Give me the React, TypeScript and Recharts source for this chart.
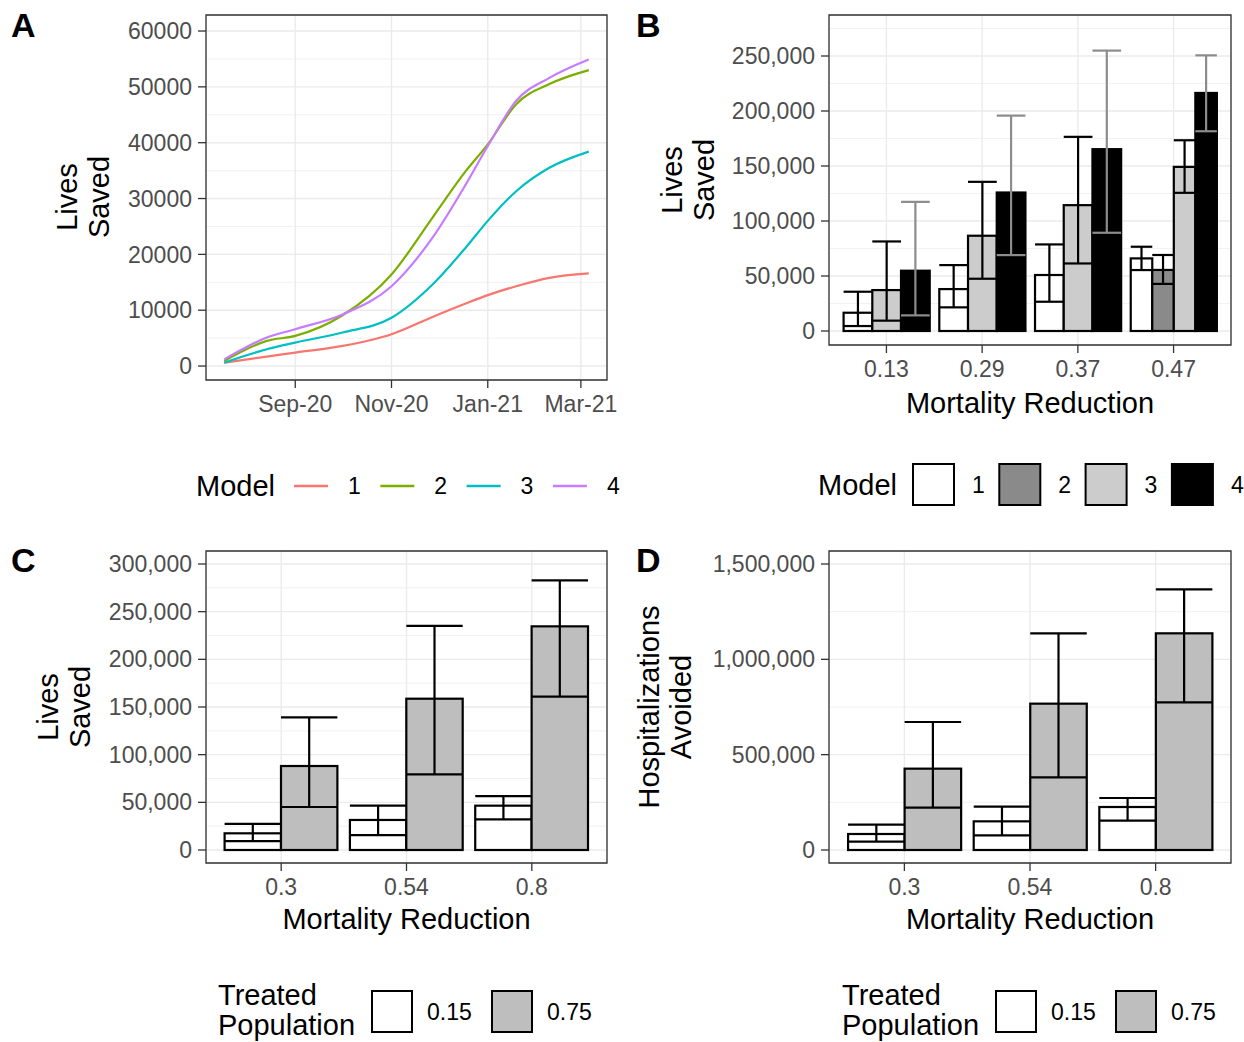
import React from 'react';
import {
  LineChart,
  Line,
  BarChart,
  Bar,
  XAxis,
  YAxis,
  CartesianGrid,
  ReferenceLine,
  ReferenceArea,
} from 'recharts';

const FONT = '"Liberation Sans", Arial, Helvetica, sans-serif';
const TICK_GREY = '#4D4D4D';
const GRID = '#EBEBEB';
const BORDER = '#333333';
const DODGE = 0.9;
const CHART_W = 620;
const MARGIN_R = 13;

// ---- panel A: cumulative lives saved by model
const lineDates = [
  '2020-07-18', '2020-08-14', '2020-09-01', '2020-10-01', '2020-11-01', '2020-11-27',
  '2020-12-18', '2021-01-01', '2021-01-19', '2021-02-09', '2021-03-06',
];
const livesModel1 = [600, 1700, 2400, 3600, 5700, 8800, 11200, 12700, 14300, 15800, 16600];
const livesModel2 = [900, 4500, 5400, 9100, 16400, 26600, 34900, 39700, 46900, 50500, 53000];
const livesModel3 = [600, 3000, 4200, 6000, 8650, 14600, 21200, 26000, 31300, 35500, 38400];
const livesModel4 = [1200, 5100, 6600, 9250, 14300, 23000, 32500, 39400, 47500, 51600, 54900];
const modelNames = ['1', '2', '3', '4'];
const modelColors = ['#F8766D', '#7CAE00', '#00BFC4', '#C77CFF'];
const dateTicks = ['2020-09-01', '2020-11-01', '2021-01-01', '2021-03-01'];
const dateTickLabels = ['Sep-20', 'Nov-20', 'Jan-21', 'Mar-21'];
const livesTicksA = [0, 10000, 20000, 30000, 40000, 50000, 60000];
const livesMinorA = [5000, 15000, 25000, 35000, 45000, 55000];

// ---- panel B: lives saved by mortality reduction and model
const mortalityB = ['0.13', '0.29', '0.37', '0.47'];
const bMean1 = [16600, 38100, 50900, 66000];
const bLow1 = [4500, 21500, 26600, 55400];
const bHigh1 = [35700, 59900, 78700, 76600];
const bMean2 = [null, null, null, 55500];
const bLow2 = [null, null, null, 42800];
const bHigh2 = [null, null, null, 69100];
const bMean3 = [37200, 86600, 114400, 149200];
const bLow3 = [9400, 47500, 61400, 125600];
const bHigh3 = [81400, 135600, 176500, 173400];
const bMean4 = [54800, 125900, 165300, 216400];
const bLow4 = [14200, 69000, 89300, 181600];
const bHigh4 = [117400, 195800, 254900, 250600];
const livesTicksB = [0, 50000, 100000, 150000, 200000, 250000];
const livesMinorB = [25000, 75000, 125000, 175000, 225000, 275000];
const modelFills = ['#FFFFFF', '#8A8A8A', '#CCCCCC', '#000000'];
const modelErrColors = ['#000000', '#000000', '#000000', '#8C8C8C'];

// ---- panels C and D: by mortality reduction and treated population
const mortalityCD = ['0.3', '0.54', '0.8'];
const treatedPop = ['0.15', '0.75'];
const cMean15 = [17500, 31500, 46500];
const cLow15 = [9400, 15700, 32200];
const cHigh15 = [27300, 46500, 56600];
const cMean75 = [88100, 158700, 234600];
const cLow75 = [45100, 79400, 160800];
const cHigh75 = [139200, 235000, 282900];
const dMean15 = [83900, 150300, 225500];
const dLow15 = [43700, 76900, 153800];
const dHigh15 = [132900, 227300, 272700];
const dMean75 = [426600, 767500, 1136400];
const dLow75 = [222000, 381100, 774500];
const dHigh75 = [671300, 1136400, 1367100];
const livesTicksC = [0, 50000, 100000, 150000, 200000, 250000, 300000];
const livesMinorC = [25000, 75000, 125000, 175000, 225000, 275000];
const hospTicksD = [0, 500000, 1000000, 1500000];
const hospMinorD = [250000, 750000, 1250000];
const treatedFills = ['#FFFFFF', '#BEBEBE'];
const treatedErrColors = ['#000000', '#000000'];

const toTime = (s: string) => Date.parse(s + 'T00:00:00Z');
const fmtComma = (v: number) => v.toLocaleString('en-US');

type BarRow = { x: number; w: number; mean: number; lo: number; hi: number; series: number };

// dodge like ggplot: bars present in a group share the dodge width
function buildRows(means: (number | null)[][], lows: (number | null)[][], highs: (number | null)[][], nGroups: number): BarRow[] {
  const rows: BarRow[] = [];
  for (let g = 0; g < nGroups; g++) {
    const present = means.map((m, s) => s).filter((s) => means[s][g] != null);
    const w = DODGE / present.length;
    present.forEach((s, k) => {
      rows.push({
        x: g + 1 - DODGE / 2 + w * (k + 0.5),
        w,
        mean: means[s][g] as number,
        lo: lows[s][g] as number,
        hi: highs[s][g] as number,
        series: s,
      });
    });
  }
  return rows;
}

const rowsB = buildRows(
  [bMean1, bMean2, bMean3, bMean4],
  [bLow1, bLow2, bLow3, bLow4],
  [bHigh1, bHigh2, bHigh3, bHigh4],
  mortalityB.length
);
const rowsC = buildRows([cMean15, cMean75], [cLow15, cLow75], [cHigh15, cHigh75], mortalityCD.length);
const rowsD = buildRows([dMean15, dMean75], [dLow15, dLow75], [dHigh15, dHigh75], mortalityCD.length);

const tickStyle = { fill: TICK_GREY, fontSize: 23, fontFamily: FONT };
const tickLineStyle = { stroke: BORDER, strokeWidth: 1.3 };

function makeBarShape(pxPerUnit: number, fills: string[], errs: string[]) {
  return (props: any) => {
    const { x, y, width, height, payload } = props;
    if (!payload) return <g />;
    const cx = x + width / 2;
    const half = (payload.w * pxPerUnit) / 2;
    const top = Math.min(y, y + height);
    const base = Math.max(y, y + height);
    const k = (base - top) / payload.mean;
    const yLo = base - payload.lo * k;
    const yHi = base - payload.hi * k;
    const ec = errs[payload.series];
    return (
      <g>
        <rect x={cx - half} y={top} width={half * 2} height={base - top} fill={fills[payload.series]} stroke="#000" strokeWidth={2.2} />
        <line x1={cx - half} x2={cx + half} y1={yLo} y2={yLo} stroke={ec} strokeWidth={2.2} />
        <line x1={cx} x2={cx} y1={yLo} y2={yHi} stroke={ec} strokeWidth={2.2} />
        <line x1={cx - half} x2={cx + half} y1={yHi} y2={yHi} stroke={ec} strokeWidth={2.2} />
      </g>
    );
  };
}

function PanelA() {
  const data = lineDates.map((d, i) => ({
    t: toTime(d),
    m1: livesModel1[i],
    m2: livesModel2[i],
    m3: livesModel3[i],
    m4: livesModel4[i],
  }));
  const t0 = data[0].t;
  const t1 = data[data.length - 1].t;
  const pad = (t1 - t0) * 0.05;
  const tickTimes = dateTicks.map(toTime);
  const yDomain = [-2500, 62870];
  return (
    <div style={{ position: 'absolute', left: 0, top: 0 }}>
      <LineChart width={CHART_W} height={430} data={data} margin={{ top: 15, right: MARGIN_R, left: 0, bottom: 0 }}>
        <CartesianGrid stroke={GRID} strokeWidth={1.4} />
        {livesMinorA.map((v) => (
          <ReferenceLine key={v} y={v} stroke={GRID} strokeWidth={0.7} zIndex={-50} />
        ))}
        <XAxis
          dataKey="t"
          type="number"
          domain={[t0 - pad, t1 + pad]}
          allowDataOverflow
          ticks={tickTimes}
          tickFormatter={(v: number) => dateTickLabels[tickTimes.indexOf(v)]}
          height={50}
          axisLine={false}
          tickSize={8}
          tickMargin={8}
          tick={tickStyle}
          tickLine={tickLineStyle}
        />
        <YAxis
          type="number"
          width={206}
          domain={yDomain}
          allowDataOverflow
          ticks={livesTicksA}
          axisLine={false}
          tickSize={8}
          tickMargin={6}
          tick={tickStyle}
          tickLine={tickLineStyle}
        />
        {modelNames.map((m, i) => (
          <Line
            key={m}
            dataKey={'m' + m}
            type="monotone"
            stroke={modelColors[i]}
            strokeWidth={2.2}
            dot={false}
            isAnimationActive={false}
          />
        ))}
        <ReferenceArea y1={yDomain[0]} y2={yDomain[1]} fill="none" stroke={BORDER} strokeWidth={1.3} ifOverflow="visible" />
      </LineChart>
    </div>
  );
}

type BarPanelProps = {
  left: number;
  top: number;
  height: number;
  marginTop: number;
  xAxisHeight: number;
  yAxisWidth: number;
  rows: BarRow[];
  groups: string[];
  yDomain: number[];
  yTicks: number[];
  yMinor: number[];
  fills: string[];
  errs: string[];
};

function BarPanel(p: BarPanelProps) {
  const xDomain = [0.4, p.groups.length + 0.6];
  const pxPerUnit = (CHART_W - p.yAxisWidth - MARGIN_R) / (xDomain[1] - xDomain[0]);
  const groupTicks = p.groups.map((_, i) => i + 1);
  return (
    <div style={{ position: 'absolute', left: p.left, top: p.top }}>
      <BarChart
        width={CHART_W}
        height={p.height}
        data={p.rows}
        barCategoryGap={0}
        margin={{ top: p.marginTop, right: MARGIN_R, left: 0, bottom: 0 }}
      >
        <CartesianGrid stroke={GRID} strokeWidth={1.4} />
        {p.yMinor.map((v) => (
          <ReferenceLine key={v} y={v} stroke={GRID} strokeWidth={0.7} zIndex={-50} />
        ))}
        <XAxis
          dataKey="x"
          type="number"
          domain={xDomain}
          allowDataOverflow
          ticks={groupTicks}
          tickFormatter={(v: number) => p.groups[v - 1]}
          height={p.xAxisHeight}
          axisLine={false}
          tickSize={8}
          tickMargin={8}
          tick={tickStyle}
          tickLine={tickLineStyle}
        />
        <YAxis
          type="number"
          width={p.yAxisWidth}
          domain={p.yDomain}
          allowDataOverflow
          ticks={p.yTicks}
          tickFormatter={fmtComma}
          axisLine={false}
          tickSize={8}
          tickMargin={6}
          tick={tickStyle}
          tickLine={tickLineStyle}
        />
        <Bar dataKey="mean" isAnimationActive={false} shape={makeBarShape(pxPerUnit, p.fills, p.errs)} />
        <ReferenceArea y1={p.yDomain[0]} y2={p.yDomain[1]} fill="none" stroke={BORDER} strokeWidth={1.3} ifOverflow="visible" />
      </BarChart>
    </div>
  );
}

function YTitle({ x, y, lines, gap }: { x: number; y: number; lines: string[]; gap: number }) {
  return (
    <text transform={`translate(${x},${y}) rotate(-90)`} textAnchor="middle" fontSize={29} fontFamily={FONT} fill="#000">
      {lines.map((l, i) => (
        <tspan key={l} x={0} y={i * gap}>
          {l}
        </tspan>
      ))}
    </text>
  );
}

function Overlay() {
  const tag = { fontFamily: FONT, fontSize: 34, fontWeight: 700, fill: '#000' } as const;
  const title = { fontFamily: FONT, fontSize: 29, fill: '#000' };
  const small = { fontFamily: FONT, fontSize: 23, fill: '#000' };
  const keyStep = 86.3;
  return (
    <svg width={1244} height={1042} style={{ position: 'absolute', left: 0, top: 0, pointerEvents: 'none' }}>
      <text x={11} y={37} {...tag}>A</text>
      <text x={636} y={37} {...tag}>B</text>
      <text x={11} y={572} {...tag}>C</text>
      <text x={636} y={572} {...tag}>D</text>

      <YTitle x={77} y={197} lines={['Lives', 'Saved']} gap={32} />
      <YTitle x={682} y={180} lines={['Lives', 'Saved']} gap={32} />
      <YTitle x={58} y={707} lines={['Lives', 'Saved']} gap={32} />
      <YTitle x={659} y={707} lines={['Hospitalizations', 'Avoided']} gap={32} />

      <text x={1030} y={413} textAnchor="middle" {...title}>Mortality Reduction</text>
      <text x={406.5} y={929} textAnchor="middle" {...title}>Mortality Reduction</text>
      <text x={1030} y={929} textAnchor="middle" {...title}>Mortality Reduction</text>

      {/* legend A */}
      <text x={196} y={496} {...title}>Model</text>
      {modelNames.map((m, i) => {
        const x0 = 294 + i * keyStep;
        return (
          <g key={m}>
            <line x1={x0} x2={x0 + 34} y1={486} y2={486} stroke={modelColors[i]} strokeWidth={2.5} />
            <text x={x0 + 54} y={494} {...small}>{m}</text>
          </g>
        );
      })}

      {/* legend B */}
      <text x={818} y={495} {...title}>Model</text>
      {modelNames.map((m, i) => {
        const x0 = 913 + i * keyStep;
        return (
          <g key={m}>
            <rect x={x0} y={464} width={41} height={41} fill={modelFills[i]} stroke="#000" strokeWidth={2} />
            <text x={x0 + 59} y={493} {...small}>{m}</text>
          </g>
        );
      })}

      {/* legends C and D */}
      {[0, 624].map((dx) => (
        <g key={dx}>
          <text x={218 + dx} y={1005} {...title}>Treated</text>
          <text x={218 + dx} y={1035} {...title}>Population</text>
          {treatedPop.map((t, i) => {
            const x0 = 372 + dx + i * 120;
            return (
              <g key={t}>
                <rect x={x0} y={991} width={40} height={41} fill={treatedFills[i]} stroke="#000" strokeWidth={2} />
                <text x={x0 + 55} y={1020} {...small}>{t}</text>
              </g>
            );
          })}
        </g>
      ))}
    </svg>
  );
}

export default function App() {
  return (
    <div
      style={{
        position: 'absolute',
        left: 0,
        top: 0,
        width: 1244,
        height: 1042,
        background: '#FFFFFF',
        fontFamily: FONT,
        overflow: 'hidden',
      }}
    >
      <PanelA />
      <BarPanel
        left={624}
        top={0}
        height={430}
        marginTop={15}
        xAxisHeight={85}
        yAxisWidth={205}
        rows={rowsB}
        groups={mortalityB}
        yDomain={[-12730, 287270]}
        yTicks={livesTicksB}
        yMinor={livesMinorB}
        fills={modelFills}
        errs={modelErrColors}
      />
      <BarPanel
        left={0}
        top={540}
        height={400}
        marginTop={11}
        xAxisHeight={77}
        yAxisWidth={206}
        rows={rowsC}
        groups={mortalityCD}
        yDomain={[-13636, 313636]}
        yTicks={livesTicksC}
        yMinor={livesMinorC}
        fills={treatedFills}
        errs={treatedErrColors}
      />
      <BarPanel
        left={624}
        top={540}
        height={400}
        marginTop={11}
        xAxisHeight={77}
        yAxisWidth={205}
        rows={rowsD}
        groups={mortalityCD}
        yDomain={[-68182, 1568182]}
        yTicks={hospTicksD}
        yMinor={hospMinorD}
        fills={treatedFills}
        errs={treatedErrColors}
      />
      <Overlay />
    </div>
  );
}
